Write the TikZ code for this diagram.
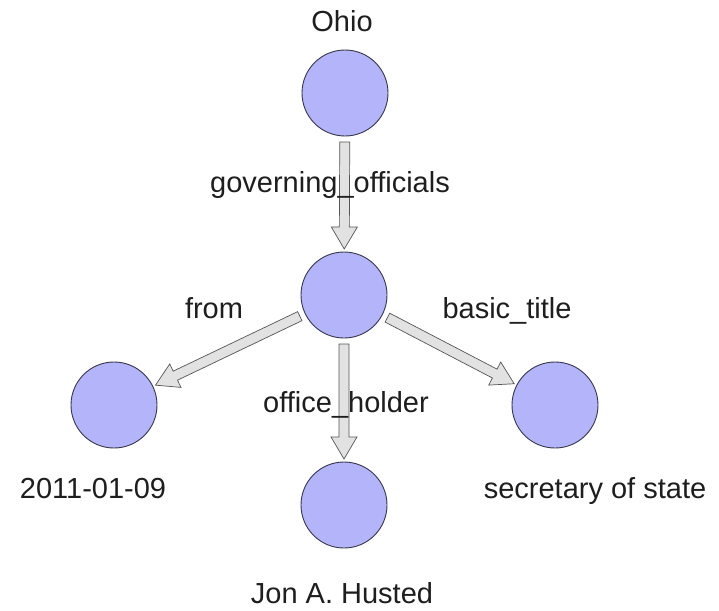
\documentclass[tikz,border=0pt]{standalone}
\usepackage{fontspec}
\setmainfont{Liberation Sans}
\usetikzlibrary{calc}

\definecolor{nodefill}{RGB}{180,180,250}
\definecolor{nodeline}{RGB}{55,55,75}
\definecolor{arrowfill}{RGB}{226,226,226}
\definecolor{arrowline}{RGB}{85,85,85}
\definecolor{labeltext}{RGB}{30,30,30}

\tikzset{
  entity/.style={circle, draw=nodeline, line width=0.9pt, fill=nodefill,
    minimum size=86pt, inner sep=0pt},
  caption/.style={anchor=base, inner sep=0pt, text=labeltext,
    font=\fontsize{29}{34}\selectfont},
  blockarrow/.style={draw=arrowline, line width=0.7pt, fill=arrowfill,
    line join=miter},
}

% block arrow from node #1 to node #2
\newcommand\blockarrow[2]{%
  \coordinate (ba-s) at ($(#1)!49pt!(#2)$);
  \coordinate (ba-e) at ($(#2)!46pt!(#1)$);
  \coordinate (ba-h) at ($(ba-e)!22pt!(ba-s)$);
  \draw[blockarrow]
    ($(ba-s)!5pt!90:(ba-e)$) -- ($(ba-h)!5pt!90:(ba-e)$)
    -- ($(ba-h)!13pt!90:(ba-e)$) -- (ba-e)
    -- ($(ba-h)!13pt!-90:(ba-e)$) -- ($(ba-h)!5pt!-90:(ba-e)$)
    -- ($(ba-s)!5pt!-90:(ba-e)$) -- cycle;
}

\begin{document}
\begin{tikzpicture}[x=1pt, y=-1pt]
  \useasboundingbox[fill=white] (0,0) rectangle (719,610);

  % entities
  \node[entity] (ohio)   at (345,93)  {};
  \node[entity] (gov)    at (344,295) {};
  \node[entity] (from)   at (114,405) {};
  \node[entity] (title)  at (555,405) {};
  \node[entity] (holder) at (344,505) {};

  % relations
  \blockarrow{ohio}{gov}
  \blockarrow{gov}{from}
  \blockarrow{gov}{title}
  \blockarrow{gov}{holder}

  % entity names
  \node[caption] (t-ohio)   at (342,32)  {Ohio};
  \node[caption] (t-date)   at (93,498)  {2011-01-09};
  \node[caption] (t-title)  at (595,498) {secretary of state};
  \node[caption] (t-holder) at (342,603) {Jon A. Husted};

  % relation names
  \node[caption] (r-gov)    at (330,192) {governing\_officials};
  \node[caption] (r-from)   at (214,318) {from};
  \node[caption] (r-title)  at (507,318) {basic\_title};
  \node[caption] (r-holder) at (346,412) {office\_holder};
\end{tikzpicture}
\end{document}
